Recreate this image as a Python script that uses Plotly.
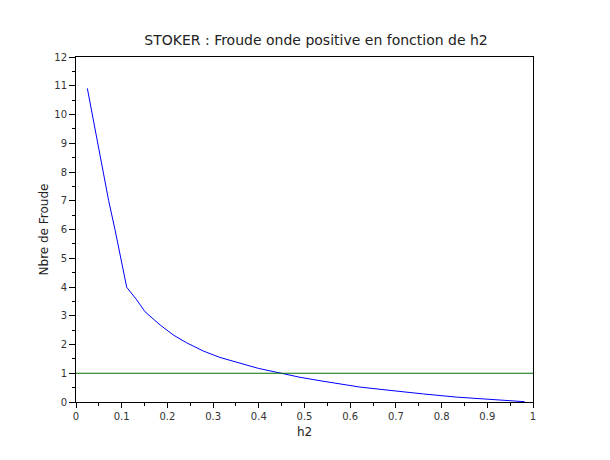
import plotly.graph_objects as go

h2 = [0.0248, 0.0357, 0.0467, 0.0584, 0.0715, 0.0853, 0.0985, 0.111, 0.133, 0.151,
      0.184, 0.213, 0.242, 0.279, 0.315, 0.352, 0.381, 0.399, 0.446, 0.49, 0.534,
      0.578, 0.621, 0.672, 0.702, 0.76, 0.833, 0.906, 0.982]
froude = [10.91, 10.0, 9.0, 8.0, 7.0, 6.0, 5.0, 3.99, 3.55, 3.14,
          2.68, 2.33, 2.06, 1.77, 1.55, 1.37, 1.25, 1.17, 1.0, 0.86, 0.74,
          0.62, 0.52, 0.43, 0.37, 0.28, 0.17, 0.08, 0.01]
ref_x = [0, 1]
ref_y = [1, 1]

title = "STOKER : Froude onde positive en fonction de h2"
xlabel = "h2"
ylabel = "Nbre de Froude"
xticks = [0, 0.1, 0.2, 0.3, 0.4, 0.5, 0.6, 0.7, 0.8, 0.9, 1]
yticks = list(range(0, 13))

fig = go.Figure()
fig.add_trace(go.Scatter(x=h2, y=froude, mode="lines",
                         line=dict(color="#0000ff", width=1), showlegend=False))
fig.add_trace(go.Scatter(x=ref_x, y=ref_y, mode="lines",
                         line=dict(color="#007000", width=1), showlegend=False))

font = "DejaVu Sans, sans-serif"
fig.update_layout(
    width=610, height=460,
    margin=dict(l=68, r=85, t=49, b=66),
    paper_bgcolor="white", plot_bgcolor="white",
    title=dict(text=title, x=0.505, xanchor="center", y=0.930, yanchor="middle",
               font=dict(family=font, size=14, color="#222")),
    font=dict(family=font, color="#333"),
)
fig.update_xaxes(range=[0, 1], tickvals=xticks, ticktext=[str(t) for t in xticks],
                 showgrid=False, zeroline=False, showline=True, linecolor="black",
                 linewidth=1, mirror=True, ticks="outside", ticklen=5, tickcolor="black",
                 tickfont=dict(size=10, color="#333"),
                 minor=dict(dtick=0.05, ticks="outside", ticklen=3, tickcolor="black"),
                 title=dict(text=xlabel, font=dict(size=12, color="#222"), standoff=6))
fig.update_yaxes(range=[0, 12], tickvals=yticks, ticktext=[str(t) for t in yticks],
                 showgrid=False, zeroline=False, showline=True, linecolor="black",
                 linewidth=1, mirror=True, ticks="outside", ticklen=6, tickcolor="black",
                 tickfont=dict(size=10, color="#333"),
                 minor=dict(dtick=0.5, ticks="outside", ticklen=3, tickcolor="black"),
                 title=dict(text=ylabel, font=dict(size=12, color="#222"), standoff=3))

fig.write_html("out.html")
